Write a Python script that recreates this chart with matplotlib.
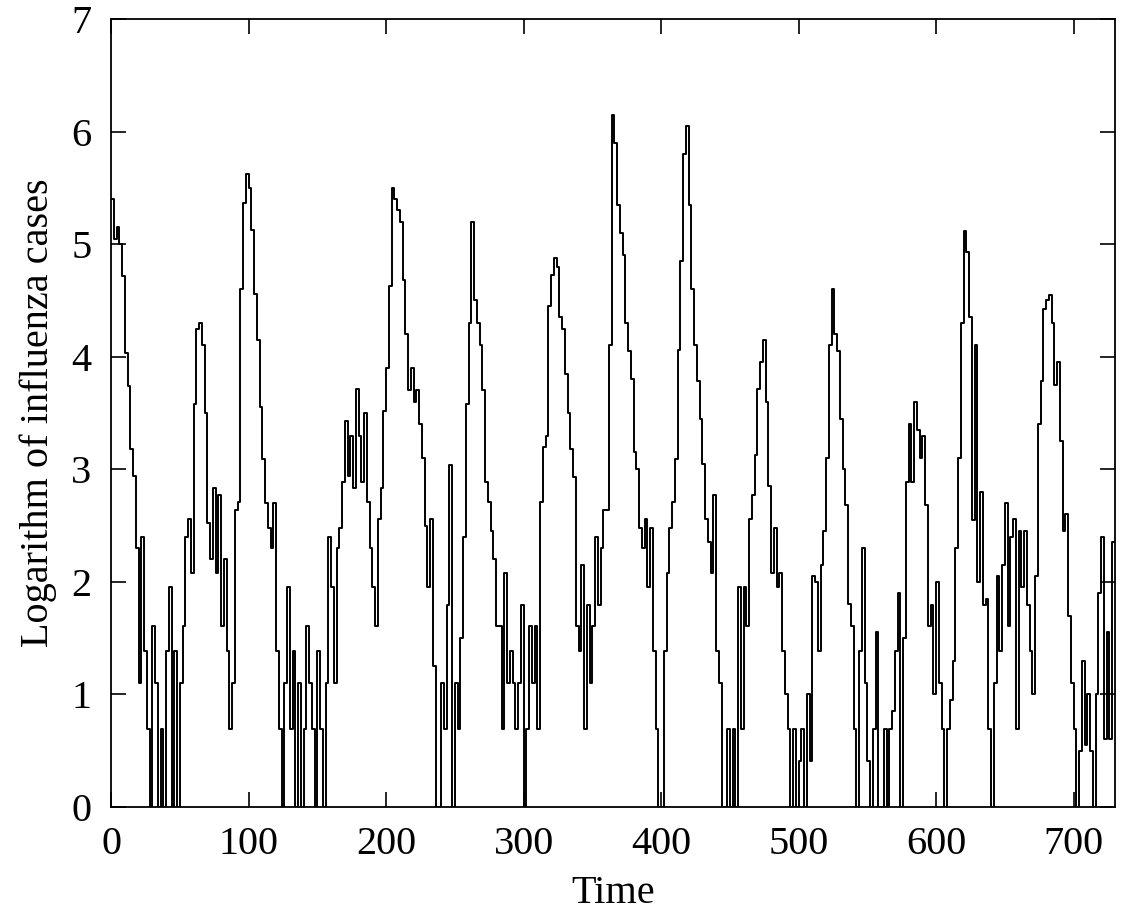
import numpy as np
import matplotlib
matplotlib.use("Agg")
import matplotlib.pyplot as plt

# weekly log counts at 2-unit resolution
step = 2
log_cases = [
    5.40, 5.05, 5.15, 5.00, 4.72, 4.03, 3.74, 3.18, 2.94, 2.30,   # 0-18
    1.10, 2.40, 1.39, 0.69, 0.00, 1.61, 1.10, 0.00, 0.69, 0.00,   # 20-38
    1.39, 1.95, 0.00, 1.39, 0.00, 1.10, 1.61, 2.40, 2.56, 2.08,   # 40-58
    3.58, 4.25, 4.30, 4.10, 3.50, 2.52, 2.20, 2.83, 2.08, 2.77,   # 60-78
    1.61, 2.20, 1.39, 0.69, 1.10, 2.64, 2.71, 4.60, 5.37, 5.62,   # 80-98
    5.50, 5.13, 4.56, 4.15, 3.55, 3.09, 2.70, 2.48, 2.30, 2.70,   # 100-118
    1.39, 0.69, 0.00, 1.10, 1.95, 0.69, 1.39, 0.00, 1.10, 0.00,   # 120-138
    0.69, 1.61, 1.10, 0.69, 0.00, 1.39, 0.69, 0.00, 1.10, 2.40,   # 140-158
    1.95, 1.10, 2.30, 2.48, 2.89, 3.43, 2.94, 3.30, 2.83, 3.71,   # 160-178
    3.30, 2.89, 3.50, 2.71, 2.30, 1.95, 1.61, 2.56, 2.83, 3.52,   # 180-198
    3.90, 4.63, 5.50, 5.40, 5.30, 5.20, 4.68, 4.20, 3.70, 3.90,   # 200-218
    3.60, 3.70, 3.40, 3.10, 2.50, 1.95, 2.56, 1.25, 0.00, 0.00,   # 220-238
    1.10, 0.69, 1.79, 3.04, 0.00, 1.10, 0.69, 1.50, 2.40, 3.58,   # 240-258
    4.30, 5.20, 4.50, 4.30, 4.10, 3.70, 2.89, 2.71, 2.45, 2.20,   # 260-278
    1.61, 1.61, 0.69, 2.08, 1.10, 1.39, 1.10, 0.69, 1.10, 1.79,   # 280-298
    0.00, 0.69, 1.61, 1.10, 1.61, 0.69, 2.71, 3.20, 3.30, 4.45,   # 300-318
    4.73, 4.88, 4.80, 4.35, 4.25, 3.85, 3.50, 3.18, 2.93, 1.61,   # 320-338
    1.39, 2.15, 0.69, 1.79, 1.10, 1.61, 2.40, 1.79, 2.30, 2.64,   # 340-358
    2.64, 4.10, 6.15, 5.90, 5.35, 5.10, 4.90, 4.30, 4.05, 3.80,   # 360-378
    3.15, 3.00, 2.48, 2.30, 2.56, 1.95, 2.48, 1.39, 0.69, 0.00,   # 380-398
    0.00, 1.39, 2.08, 2.48, 2.71, 3.09, 4.06, 4.85, 5.80, 6.05,   # 400-418
    5.35, 4.60, 4.10, 3.78, 3.45, 3.05, 2.56, 2.35, 2.08, 2.77,   # 420-438
    1.39, 1.10, 0.00, 0.00, 0.69, 0.00, 0.69, 0.00, 1.95, 0.69,   # 440-458
    1.95, 1.61, 2.56, 2.77, 3.13, 3.71, 3.95, 4.15, 3.60, 2.85,   # 460-478
    2.08, 2.48, 1.95, 2.08, 1.39, 1.00, 0.69, 0.00, 0.69, 0.00,   # 480-498
    0.41, 0.69, 0.00, 1.00, 0.41, 2.05, 2.00, 1.39, 2.15, 2.45,   # 500-518
    3.10, 4.10, 4.60, 4.20, 4.05, 3.45, 3.00, 2.68, 1.80, 1.61,   # 520-538
    0.69, 0.00, 1.39, 2.30, 1.10, 0.41, 0.00, 0.69, 1.55, 0.00,   # 540-558
    0.00, 0.69, 0.00, 0.69, 0.85, 1.39, 1.90, 0.00, 1.50, 2.89,   # 560-578
    3.40, 2.89, 3.60, 3.35, 3.10, 3.30, 2.68, 1.61, 1.79, 1.00,   # 580-598
    2.00, 1.10, 0.69, 0.00, 0.69, 0.95, 1.30, 2.30, 3.10, 4.30,   # 600-618
    5.12, 4.93, 4.35, 2.55, 4.10, 2.00, 2.80, 1.79, 1.85, 0.69,   # 620-638
    0.00, 1.10, 2.05, 1.39, 2.15, 2.70, 1.61, 2.40, 2.56, 0.69,   # 640-658
    2.45, 1.95, 2.45, 1.79, 1.39, 1.00, 2.05, 3.40, 3.78, 4.42,   # 660-678
    4.50, 4.55, 4.30, 3.75, 3.95, 3.25, 2.45, 2.60, 1.70, 1.10,   # 680-698
    0.69, 0.00, 0.50, 1.30, 0.55, 1.00, 0.50, 0.00, 1.00, 1.90,   # 700-718
    2.40, 0.60, 1.55, 0.60, 2.35,                                 # 720-728
]
time = np.arange(len(log_cases)) * step

# extend last step to the right edge like gnuplot's 'with steps'
t_plot = np.append(time, time[-1] + step)
y_plot = np.append(log_cases, log_cases[-1])

plt.rcParams['font.family'] = ['Liberation Serif', 'DejaVu Serif']
plt.rcParams['mathtext.fontset'] = 'stix'

fig = plt.figure(figsize=(11.25, 9.19), dpi=100)
ax = fig.add_axes([0.0987, 0.1219, 0.8923, 0.8574])

ax.plot(t_plot, y_plot, drawstyle='steps-post', color='black', lw=1.4)

ax.set_xlim(0, 730)
ax.set_ylim(0, 7)
ax.set_xticks([0, 100, 200, 300, 400, 500, 600, 700])
ax.set_yticks([0, 1, 2, 3, 4, 5, 6, 7])

ax.tick_params(direction='in', length=11, width=1.2, top=True, right=True,
               labelsize=29, pad=14)
for s in ax.spines.values():
    s.set_linewidth(1.3)

ax.set_xlabel('Time', fontsize=29, labelpad=8)
ax.set_ylabel('Logarithm of influenza cases', fontsize=29, labelpad=10)

fig.savefig('out.png', dpi=100)
